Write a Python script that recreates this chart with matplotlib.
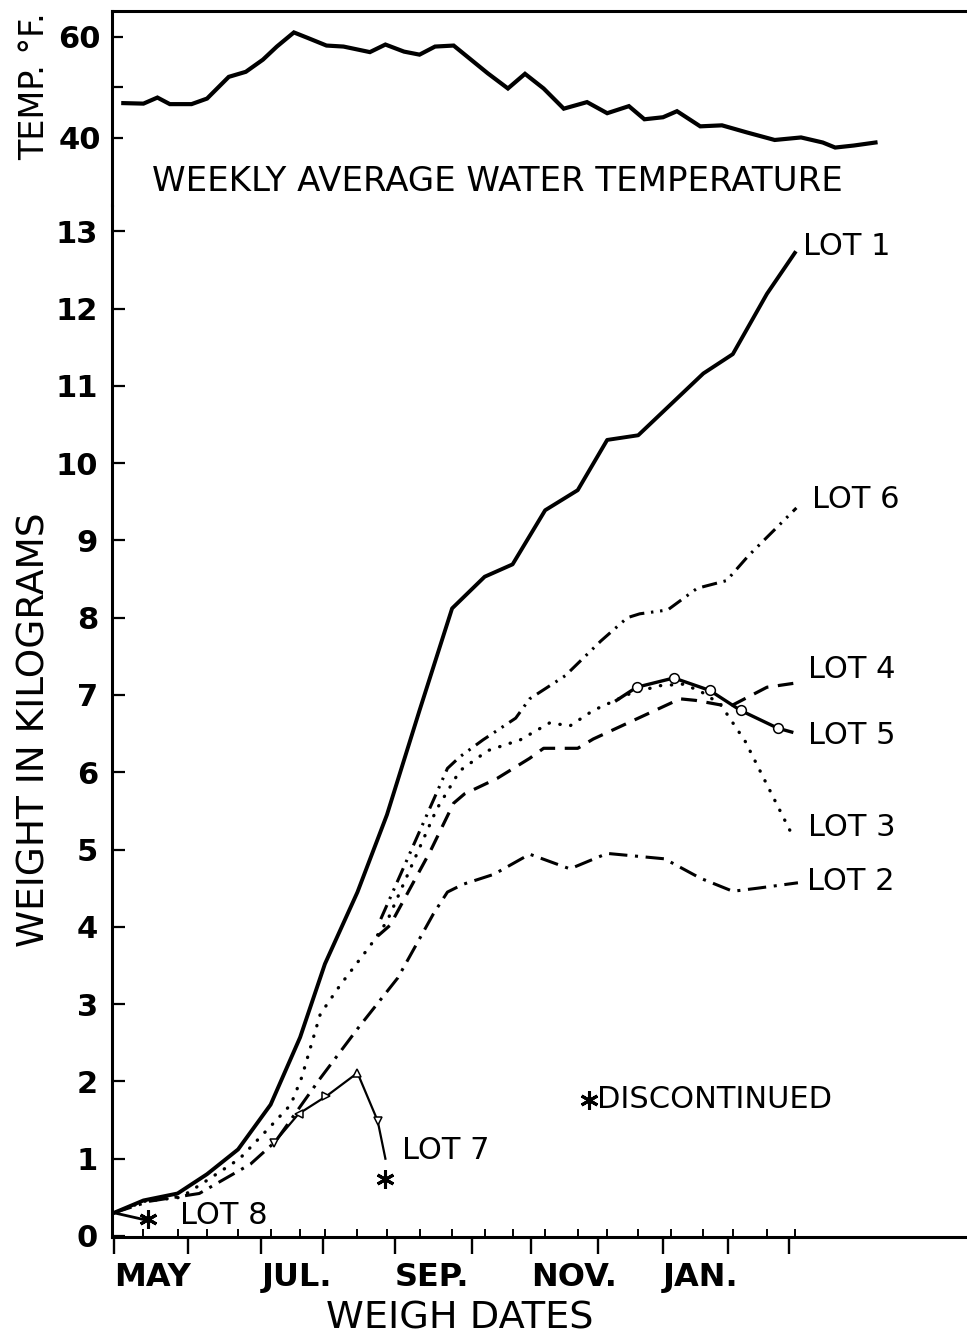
import matplotlib
matplotlib.use("Agg")
import matplotlib.pyplot as plt

plt.rcParams["font.family"] = ["DejaVu Sans"]

# x unit: weeks after the first weighing
weigh_wk = [0, 1.9, 4.1, 6.0, 8.0, 10.1, 12.0, 13.6, 15.7, 17.6, 19.7, 21.8,
            23.9, 25.7, 27.8, 29.9, 31.8, 33.8, 35.9, 38.0, 39.9, 42.1, 43.9]
month_wk = [0, 4.8, 9.5, 13.5, 18.1, 23.1, 26.9, 31.2, 35.4, 39.6, 43.5]
month_lbl = ["MAY", "", "JUL.", "", "SEP.", "", "NOV.", "", "JAN.", "", ""]

# weekly average water temperature (deg F)
temp_wk = [0.6, 1.9, 2.8, 3.6, 5.0, 6.0, 7.4, 8.5, 9.6, 10.5, 11.6, 12.5, 13.7,
           14.8, 16.5, 17.5, 18.7, 19.7, 20.7, 21.9, 22.9, 24.1, 25.4, 26.5,
           27.7, 29.0, 30.5, 31.8, 33.2, 34.2, 35.4, 36.3, 37.8, 39.2, 40.8,
           42.6, 44.3, 45.7, 46.5, 47.7, 49.1]
temp_f = [46.9, 46.8, 48.0, 46.7, 46.7, 47.8, 52.1, 53.1, 55.5, 58.1, 60.9,
          59.8, 58.3, 58.1, 57.0, 58.5, 57.1, 56.5, 58.1, 58.3, 55.8, 52.8,
          49.8, 52.7, 49.8, 45.8, 47.1, 44.9, 46.3, 43.7, 44.1, 45.3, 42.3,
          42.5, 41.1, 39.6, 40.1, 39.1, 38.1, 38.5, 39.1]

# weights in kg
lot1_kg = [0.30, 0.46, 0.55, 0.80, 1.12, 1.70, 2.57, 3.52, 4.45, 5.45, 6.80,
           8.12, 8.53, 8.69, 9.39, 9.65, 10.30, 10.36, 10.76, 11.16, 11.41,
           12.19, 12.72]

lot2_wk = [0, 2.3, 5.5, 8.8, 10.4, 13.3, 15.7, 18.3, 20.6, 21.5, 22.5, 24.5,
           26.8, 29.4, 31.8, 35.5, 37.8, 39.9, 41.5, 44.1]
lot2_kg = [0.30, 0.45, 0.55, 0.93, 1.22, 2.04, 2.68, 3.34, 4.17, 4.45, 4.55,
           4.68, 4.94, 4.75, 4.95, 4.88, 4.63, 4.46, 4.50, 4.57]

lot3_wk = [0, 2.0, 4.3, 6.0, 8.1, 10.1, 11.4, 12.1, 13.3, 14.6, 16.5, 17.6,
           19.1, 20.8, 22.3, 24.1, 26.2, 28.1, 29.4, 30.9, 33.3, 35.2, 36.7,
           37.8, 39.1, 40.7, 42.3, 43.7]
lot3_kg = [0.30, 0.45, 0.50, 0.72, 1.00, 1.42, 1.70, 2.05, 2.87, 3.25, 3.75,
           4.07, 4.75, 5.52, 6.02, 6.28, 6.42, 6.64, 6.60, 6.80, 7.02, 7.12,
           7.14, 7.05, 6.88, 6.40, 5.76, 5.20]

lot4_wk = [17.0, 17.8, 19.1, 20.4, 21.9, 22.6, 24.7, 26.8, 27.7, 29.9, 30.9,
           36.5, 37.5, 39.7, 42.1, 43.8]
lot4_kg = [3.88, 4.02, 4.50, 4.98, 5.60, 5.72, 5.92, 6.18, 6.31, 6.31, 6.43,
           6.95, 6.93, 6.85, 7.10, 7.15]

lot5_wk = [32.4, 33.7, 36.1, 38.4, 40.4, 42.8, 43.7]
lot5_kg = [6.93, 7.10, 7.22, 7.06, 6.80, 6.57, 6.52]

lot6_wk = [17.2, 21.5, 22.3, 23.8, 25.9, 26.8, 27.8, 29.1, 31.4, 33.1, 33.9,
           35.7, 37.6, 39.5, 40.9, 44.0]
lot6_kg = [4.10, 6.05, 6.20, 6.42, 6.70, 6.95, 7.08, 7.25, 7.70, 8.00, 8.05,
           8.10, 8.38, 8.48, 8.80, 9.42]

lot7_wk = [10.3, 11.9, 13.7, 15.7, 17.0, 17.5]
lot7_kg = [1.20, 1.58, 1.81, 2.11, 1.49, 1.00]

lot8_wk = [0, 2.2]
lot8_kg = [0.30, 0.20]

# where a lot was discontinued
stop_wk = [2.2, 17.5]
stop_kg = [0.22, 0.74]

ASTER = (6, 2, 0)

fig = plt.figure(figsize=(9.67, 13.37), dpi=100)
ax = fig.add_axes([0.1158, 0.0748, 0.8842, 0.7719])
axt = fig.add_axes([0.1158, 0.8467, 0.8842, 0.1451])
XLIM = (-0.13, 55.0)

# ---- temperature panel
axt.plot(temp_wk, temp_f, color="k", lw=3, solid_joinstyle="miter")
axt.set_xlim(*XLIM)
axt.set_ylim(26.73, 65.15)
axt.set_xticks([])
axt.set_yticks([40, 50, 60], ["40", "", "60"])
axt.tick_params(axis="y", direction="in", length=8, width=1.6, pad=8,
                labelsize=22)
for t in axt.get_yticklabels():
    t.set_fontweight("bold")
for s in ["right", "bottom"]:
    axt.spines[s].set_visible(False)
for s in ["left", "top"]:
    axt.spines[s].set_linewidth(2.2)

# ---- weight panel
ax.plot(weigh_wk, lot1_kg, color="k", lw=2.8, solid_joinstyle="round")
ax.plot(lot2_wk, lot2_kg, color="k", lw=2.2, ls=(0, (6, 2.5, 1, 2.5)))
ax.plot(lot3_wk, lot3_kg, color="k", lw=2.4, ls=(0, (0.1, 3.2)),
        dash_capstyle="round")
ax.plot(lot4_wk, lot4_kg, color="k", lw=2.3, ls=(0, (5, 3)))
ax.plot(lot6_wk, lot6_kg, color="k", lw=2.2,
        ls=(0, (5, 2.2, 0.8, 2.2, 0.8, 2.2)))
ax.plot(lot5_wk, lot5_kg, color="k", lw=2.4, marker="o", markevery=[1, 2, 3, 4, 5],
        ms=7, mfc="white", mec="k", mew=1.1, zorder=4)
ax.plot(lot7_wk, lot7_kg, color="k", lw=1.6)
for xx, yy, m in zip(lot7_wk[:5], lot7_kg[:5], ["v", "<", ">", "^", "v"]):
    ax.plot(xx, yy, marker=m, ms=6, mfc="white", mec="k", mew=1.1, zorder=4)
ax.plot(lot8_wk, lot8_kg, color="k", lw=2.0)
ax.plot(stop_wk, stop_kg, ls="none", marker=ASTER, ms=13, mew=2.2, color="k")

lab = dict(fontsize=22, va="center", ha="left")
ax.text(44.45, 12.8, "LOT 1", **lab)
ax.text(45.0, 9.53, "LOT 6", **lab)
ax.text(44.75, 7.33, "LOT 4", **lab)
ax.text(44.75, 6.47, "LOT 5", **lab)
ax.text(44.75, 5.28, "LOT 3", **lab)
ax.text(44.7, 4.59, "LOT 2", **lab)
ax.text(18.6, 1.11, "LOT 7", **lab)
ax.text(4.25, 0.27, "LOT 8", **lab)

ax.plot([30.6], [1.76], ls="none", marker=ASTER, ms=13, mew=2.2, color="k")
ax.text(31.15, 1.76, "DISCONTINUED", fontsize=22, va="center", ha="left")

ax.set_xlim(*XLIM)
ax.set_ylim(-0.013, 13.34)
ax.set_yticks(range(14))
ax.tick_params(axis="y", direction="in", length=9, width=1.6, pad=10,
               labelsize=22)
for t in ax.get_yticklabels():
    t.set_fontweight("bold")

ax.set_xticks(month_wk, month_lbl)
ax.set_xticks(weigh_wk, minor=True)
ax.tick_params(axis="x", which="major", direction="out", length=12, width=1.7,
               pad=6, labelsize=23)
ax.tick_params(axis="x", which="minor", direction="in", length=6, width=1.4)
for t in ax.get_xticklabels():
    t.set_horizontalalignment("left")
    t.set_fontweight("bold")

for s in ["right", "top"]:
    ax.spines[s].set_visible(False)
for s in ["left", "bottom"]:
    ax.spines[s].set_linewidth(2.2)

fig.text(0.514, 0.8646, "WEEKLY AVERAGE WATER TEMPERATURE", fontsize=24.5,
         ha="center", va="center")
fig.text(0.036, 0.9357, "TEMP. °F.", fontsize=24, rotation=90,
         ha="center", va="center")
fig.text(0.036, 0.454, "WEIGHT IN KILOGRAMS", fontsize=27, rotation=90,
         ha="center", va="center")
fig.text(0.4757, 0.0142, "WEIGH DATES", fontsize=27.5, ha="center", va="center")

fig.savefig("out.png", dpi=100)
